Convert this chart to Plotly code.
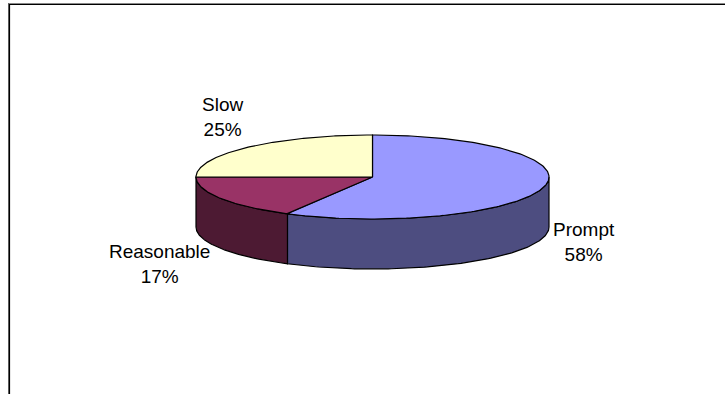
import numpy as np
import plotly.graph_objects as go

# Response-time survey shares (percent)
categories = ["Prompt", "Reasonable", "Slow"]
shares = [58, 17, 25]

# Slice colours: top face and the darker side wall
top_colors = ["#9999FF", "#993366", "#FFFFCC"]
side_colors = ["#4D4D80", "#4D1A33", "#80806A"]

# Label anchor points (page pixels) for each category
label_pos = [(584, 242), (159, 264), (222, 117)]

W, H = 725, 394
cx, cy = 372.5, 177.0      # centre of the top ellipse
rx, ry = 176.5, 42.0       # radii of the tilted pie
depth = 50.0               # thickness of the pie

def ell(theta_deg, dy=0.0):
    """Point on the ellipse; angle measured clockwise from 12 o'clock."""
    t = np.radians(theta_deg)
    return cx + rx * np.sin(t), cy - ry * np.cos(t) + dy

fig = go.Figure()

# Slice boundaries in degrees, starting at 12 o'clock and running clockwise
total = float(sum(shares))
bounds = np.concatenate([[0.0], np.cumsum(shares) / total * 360.0])

# Side walls: only the front half (90..270 deg) is visible
for i in range(len(shares)):
    a0, a1 = max(bounds[i], 90.0), min(bounds[i + 1], 270.0)
    if a1 <= a0:
        continue
    th = np.linspace(a0, a1, 120)
    xt, yt = ell(th)
    xb, yb = ell(th[::-1], depth)
    fig.add_trace(go.Scatter(
        x=np.concatenate([xt, xb, xt[:1]]),
        y=np.concatenate([yt, yb, yt[:1]]),
        mode="lines", fill="toself", fillcolor=side_colors[i],
        line=dict(color="black", width=1.2), hoverinfo="skip",
        showlegend=False))

# Top faces
for i in range(len(shares)):
    th = np.linspace(bounds[i], bounds[i + 1], 200)
    xs, ys = ell(th)
    fig.add_trace(go.Scatter(
        x=np.concatenate([[cx], xs, [cx]]),
        y=np.concatenate([[cy], ys, [cy]]),
        mode="lines", fill="toself", fillcolor=top_colors[i],
        line=dict(color="black", width=1.2), hoverinfo="skip",
        name=categories[i], showlegend=False))

# Data labels
for name, val, (lx, ly) in zip(categories, shares, label_pos):
    fig.add_annotation(
        x=lx, y=ly, xref="x", yref="y", showarrow=False,
        text=f"{name}<br>{round(val / total * 100)}%",
        font=dict(family="Liberation Sans, Arial, sans-serif", size=19,
                  color="black"),
        xanchor="center", yanchor="middle", align="center")

# Chart-area frame (top and left edges)
fig.add_shape(type="line", x0=8, x1=W, y0=3.5, y1=3.5, xref="x", yref="y",
              line=dict(color="#888888", width=1))
fig.add_shape(type="line", x0=8, x1=W, y0=4.5, y1=4.5, xref="x", yref="y",
              line=dict(color="black", width=1.2))
fig.add_shape(type="line", x0=8.5, x1=8.5, y0=3, y1=H, xref="x", yref="y",
              line=dict(color="#666666", width=1))
fig.add_shape(type="line", x0=9.5, x1=9.5, y0=4, y1=H, xref="x", yref="y",
              line=dict(color="black", width=1.2))

fig.update_layout(
    width=W, height=H,
    margin=dict(l=0, r=0, t=0, b=0),
    paper_bgcolor="white", plot_bgcolor="white",
    xaxis=dict(range=[0, W], visible=False, fixedrange=True),
    yaxis=dict(range=[H, 0], visible=False, fixedrange=True),
    showlegend=False,
)

fig.write_html("out.html")
